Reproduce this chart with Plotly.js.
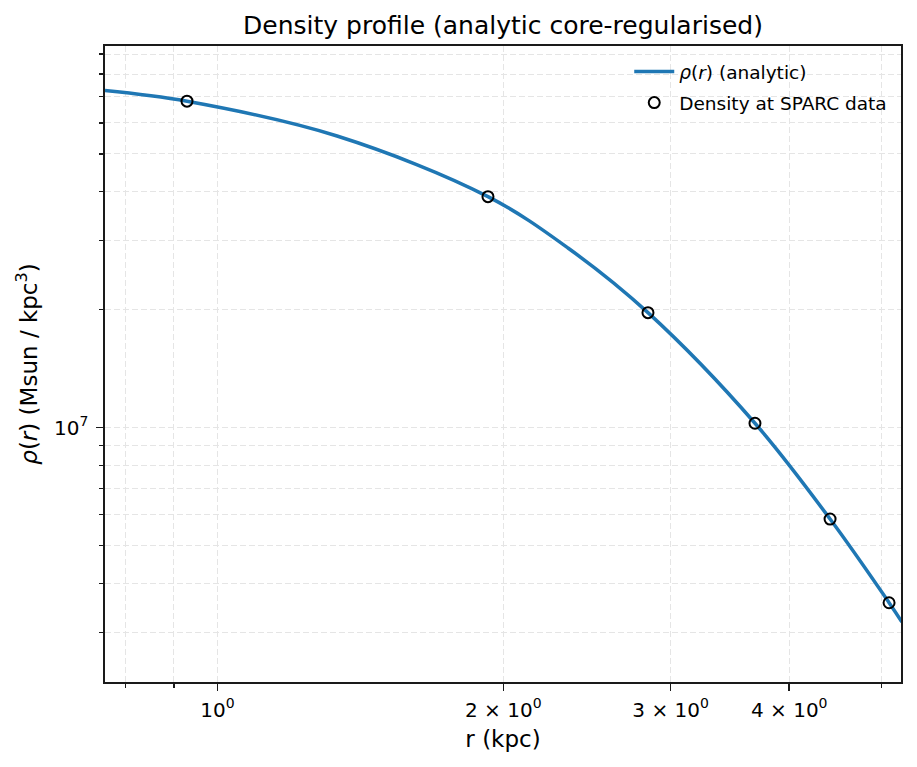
<!DOCTYPE html>
<html>
<head>
<meta charset="utf-8">
<script src="https://cdn.plot.ly/plotly-3.0.1.min.js"></script>
<style>
html,body{margin:0;padding:0;background:#fff;}
#chart{width:917px;height:767px;}
</style>
</head>
<body>
<div id="chart"></div>
<script>
// Analytic curve (r in kpc, rho in Msun/kpc^3)
const curveR   = [0.7615, 0.9292, 1.3366, 1.927, 2.3394, 2.840, 3.681, 4.416, 5.095, 5.256];
const curveRho = [7.26e7, 6.815e7, 5.556e7, 3.89e7, 2.876e7, 1.966e7, 1.026e7, 5.84e6, 3.57e6, 3.187e6];

// Density at SPARC radii
const dataR   = [0.929, 1.927, 2.840, 3.681, 4.416, 5.095];
const dataRho = [6.82e7, 3.89e7, 1.966e7, 1.026e7, 5.84e6, 3.57e6];

// Tick labels
const xTickVals = [1, 2, 3, 4];
const xTickText = ['10<sup>0</sup>', '2 × 10<sup>0</sup>', '3 × 10<sup>0</sup>', '4 × 10<sup>0</sup>'];
const xMinorVals = [0.8, 0.9, 5];
const yTickVals = [1e7];
const yTickText = ['10<sup>7</sup>'];
const yMinorVals = [3e6, 4e6, 5e6, 6e6, 7e6, 8e6, 9e6, 2e7, 3e7, 4e7, 5e7, 6e7, 7e7, 8e7, 9e7];

const FONT = 'DejaVu Sans, sans-serif';
const gridCol = '#e5e5e5';
const dash = '6px,3px';

const traces = [
  {
    x: curveR, y: curveRho, type: 'scatter', mode: 'lines',
    name: '<i>ρ</i>(<i>r</i>) (analytic)', legendgroup: 'a',
    line: {color: '#1f77b4', width: 3.5, shape: 'spline', smoothing: 1}
  },
  {
    x: dataR, y: dataRho, type: 'scatter', mode: 'markers',
    name: 'Density at SPARC data', legendgroup: 'b',
    marker: {symbol: 'circle-open', size: 11, color: '#000000', line: {width: 2, color: '#000000'}}
  }
];

const axisCommon = {
  type: 'log',
  showline: true, linecolor: '#1a1a1a', linewidth: 1.6, mirror: true,
  ticks: 'outside', ticklen: 7, tickwidth: 1.6, tickcolor: '#1a1a1a',
  showgrid: true, gridcolor: gridCol, gridwidth: 1, griddash: dash,
  zeroline: false,
  tickfont: {family: FONT, size: 20, color: '#000'},
  tickmode: 'array'
};

const minorCommon = {tickmode: 'array', ticks: 'outside', ticklen: 4, tickwidth: 1.2, tickcolor: '#1a1a1a',
                     showgrid: true, gridcolor: gridCol, gridwidth: 1, griddash: dash};

const layout = {
  width: 917, height: 767,
  paper_bgcolor: '#ffffff', plot_bgcolor: '#ffffff',
  margin: {l: 105, r: 16, t: 46, b: 85},
  font: {family: FONT, color: '#000'},
  title: {text: 'Density profile (analytic core-regularised)', x: 0.5, xref: 'paper', xanchor: 'center',
          y: 1, yref: 'paper', yanchor: 'bottom', pad: {b: 12},
          font: {family: FONT, size: 25, color: '#000'}},
  xaxis: Object.assign({}, axisCommon, {
    range: [-0.1183, 0.7197],
    tickvals: xTickVals, ticktext: xTickText, ticklabelstandoff: 2,
    minor: Object.assign({tickvals: xMinorVals}, minorCommon),
    title: {text: 'r (kpc)', font: {family: FONT, size: 23, color: '#000'}, standoff: 10}
  }),
  yaxis: Object.assign({}, axisCommon, {
    range: [6.3502, 7.9747],
    tickvals: yTickVals, ticktext: yTickText, ticklabelstandoff: 4,
    minor: Object.assign({tickvals: yMinorVals}, minorCommon),
    title: {text: '<i>ρ</i>(<i>r</i>) (Msun / kpc<sup>3</sup>)', font: {family: FONT, size: 23, color: '#000'}, standoff: 10}
  }),
  legend: {
    x: 0.989, y: 0.989, xanchor: 'right', yanchor: 'top',
    bgcolor: 'rgba(255,255,255,0)', borderwidth: 0,
    font: {family: FONT, size: 18.5, color: '#000'},
    tracegroupgap: 4, itemwidth: 40
  },
  showlegend: true
};

Plotly.newPlot('chart', traces, layout, {displayModeBar: false, staticPlot: true});
</script>
</body>
</html>
